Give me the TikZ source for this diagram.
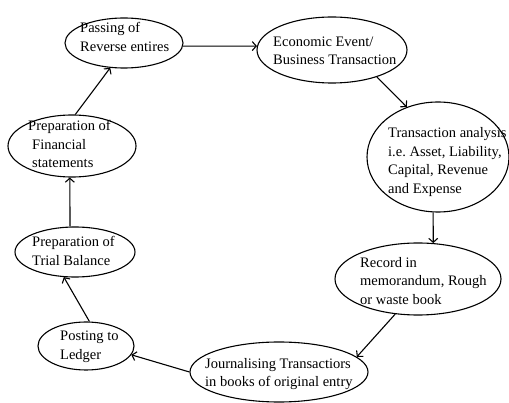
\documentclass[tikz,border=0pt]{standalone}
\usepackage{fontspec}
\setmainfont{Liberation Serif}
\usetikzlibrary{arrows.meta,shapes.geometric}
\frenchspacing
\begin{document}
\begin{tikzpicture}[x=1pt,y=-1pt,
  stage/.style={draw,ellipse,line width=1.1pt,inner sep=0pt},
  lbl/.style={anchor=west,align=left,inner sep=0pt,font=\fontsize{14.5}{18.5}\selectfont},
  flow/.style={line width=1.1pt,-{Straight Barb[length=4pt,width=9pt,line width=1.1pt]}}]
\useasboundingbox (0,0) rectangle (509,403);
\node[stage,minimum width=118pt,minimum height=50pt] (e1) at (124,43) {};
\node[stage,minimum width=150pt,minimum height=66pt] (e2) at (332,50) {};
\node[stage,minimum width=142pt,minimum height=110pt] (e3) at (438,157) {};
\node[stage,minimum width=166pt,minimum height=72pt] (e4) at (418,279) {};
\node[stage,minimum width=178pt,minimum height=60pt] (e5) at (279,372) {};
\node[stage,minimum width=96pt,minimum height=48pt] (e6) at (86,346) {};
\node[stage,minimum width=120pt,minimum height=50pt] (e7) at (75,252) {};
\node[stage,minimum width=128pt,minimum height=62pt] (e8) at (72,146) {};
\node[lbl] (t1) at (80,37) {Passing of\\Reverse entires};
\node[lbl] (t2) at (273,51) {Economic Event/\\Business Transaction};
\node[lbl] (t3) at (388,162) {Transaction analysis\\i.e. Asset, Liability,\\Capital, Revenue\\and Expense};
\node[lbl] (t4) at (360,281) {Record in\\memorandum, Rough\\or waste book};
\node[lbl] (t5) at (205,374) {Journalising Transactiors\\in books of original entry};
\node[lbl] (t6) at (60,347) {Posting to\\Ledger};
\node[lbl] (t7) at (32,251) {Preparation of\\Trial Balance};
\node[lbl] (t8) at (28,144) {Preparation of\\\hspace*{4pt}Financial\\\hspace*{4pt}statements};
\draw[flow] (e1.-3.9) -- (e2.177.7);
\draw[flow] (e2.-31.3) -- (e3.122.5);
\draw[flow] (e3.-95.2) -- (e4.67);
\draw[flow] (e4.-123.3) -- (e5.11.6);
\draw[flow] (e5.180) -- (e6.-11.1);
\draw[flow] (e6.82.6) -- (e7.-114.8);
\draw[flow] (e7.101) -- (e8.-94);
\draw[flow] (e8.84.5) -- (e1.-119);
\end{tikzpicture}
\end{document}
